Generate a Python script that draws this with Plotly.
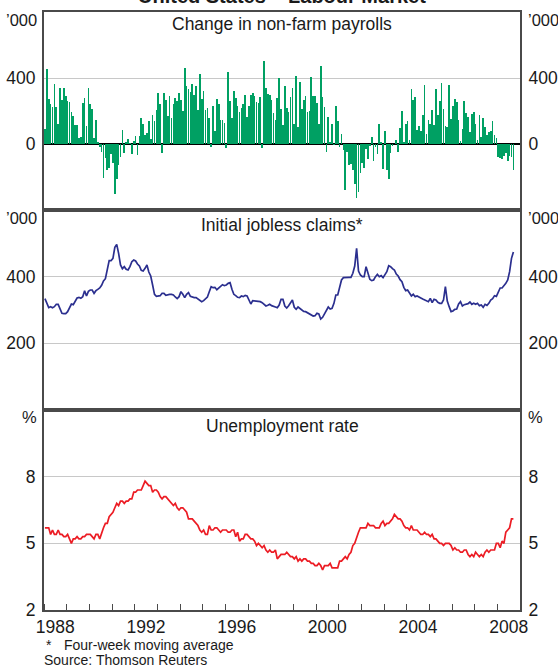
import plotly.graph_objects as go

# ---------------- data (monthly, Jan 1988 - Sep 2008) ----------------
start_year = 1988
x_end = 2009

payrolls = [  # change in non-farm payrolls, '000
    92, 452, 272, 242, 224, 362, 226, 122, 338, 266, 338, 290,      # 1988
    260, 254, 194, 168, 116, 116, 38, 44, 248, 278, 110, 338,       # 1989
    242, 212, 38, 146, 14, -20, -46, -208, -82, -160, -148, -58,    # 1990
    -118, -304, -214, -130, -80, 86, -52, 14, 32, 2, -58, 20,       # 1991
    50, -64, 50, 158, 122, 56, 68, 140, 32, 176, 140, 206,          # 1992
    308, 242, -52, 308, 266, 170, 290, 158, 242, 278, 260, 308,     # 1993
    266, 200, 458, 350, 332, 314, 362, 296, 350, 206, 422, 272,     # 1994
    320, 206, 218, 158, -16, 230, 80, 272, 242, 146, 146, 128,      # 1995
    -22, 434, 260, 158, 320, 278, 230, 194, 218, 242, 296, 164,     # 1996
    230, 296, 308, 290, 254, 248, 284, -22, 506, 338, 302, 296,     # 1997
    266, 188, 146, 278, 398, 212, 116, 350, 218, 194, 284, 338,     # 1998
    122, 410, 104, 374, 212, 266, 290, 194, 200, 404, 290, 290,     # 1999
    248, 122, 470, 284, 224, -46, 164, 10, 122, -6, 230, 140,       # 2000
    -16, 62, -34, -280, -46, -130, -124, -160, -244, -328, -292, -178,  # 2001
    -118, -148, -28, -88, -10, 44, -100, -16, -58, 122, 8, -154,    # 2002
    80, -160, -214, -52, -10, 0, 26, -46, 98, 200, 14, 122,         # 2003
    140, 26, 332, 266, 284, 86, 110, 80, 176, 356, 62, 146,         # 2004
    122, 206, 116, 332, 176, 260, 368, 212, 110, 104, 356, 152,     # 2005
    230, 272, 254, 146, 20, 92, 260, 188, 164, 74, 182, 194,        # 2006
    122, 26, 176, 44, 158, 104, 56, 74, 80, 140, 56, 38,            # 2007
    -76, -82, -88, -70, -52, -100, -70, -76, -160,                  # 2008
]

claims = [  # initial jobless claims, four-week moving average, '000
    334, 319, 307, 310, 307, 310, 317, 317, 300, 290, 289, 289,     # 1988
    295, 307, 318, 316, 325, 336, 338, 335, 340, 358, 342, 356,     # 1989
    360, 360, 350, 358, 362, 366, 374, 387, 394, 420, 448, 448,     # 1990
    455, 488, 497, 470, 435, 424, 430, 422, 420, 430, 445, 450,     # 1991
    447, 438, 432, 419, 417, 425, 435, 414, 402, 375, 347, 341,     # 1992
    343, 343, 350, 350, 344, 346, 347, 347, 345, 339, 334, 340,     # 1993
    355, 347, 337, 347, 352, 341, 338, 337, 337, 332, 330, 325,     # 1994
    328, 334, 339, 355, 370, 367, 368, 361, 366, 370, 376, 373,     # 1995
    375, 380, 382, 362, 347, 343, 338, 337, 342, 340, 344, 342,     # 1996
    330, 318, 328, 327, 327, 327, 325, 322, 316, 312, 314, 317,     # 1997
    313, 310, 309, 307, 315, 332, 332, 312, 306, 313, 320, 330,     # 1998
    308, 302, 309, 304, 301, 296, 295, 292, 289, 287, 282, 283,     # 1999
    290, 288, 273, 278, 288, 297, 309, 303, 305, 320, 345, 345,     # 2000
    370, 390, 397, 398, 398, 398, 398, 410, 432, 485, 417, 405,     # 2001
    400, 400, 430, 410, 392, 388, 390, 400, 407, 400, 403, 397,     # 2002
    405, 415, 433, 430, 424, 420, 408, 402, 391, 385, 368, 358,     # 2003
    360, 350, 342, 347, 340, 342, 338, 336, 333, 330, 327, 325,     # 2004
    335, 322, 332, 330, 323, 320, 320, 330, 370, 327, 310, 295,     # 2005
    297, 302, 303, 318, 325, 312, 316, 317, 319, 324, 317, 320,     # 2006
    317, 320, 313, 315, 308, 317, 314, 320, 330, 334, 343, 341,     # 2007
    352, 366, 366, 372, 380, 390, 415, 455, 474,                    # 2008
]

unemployment = [  # unemployment rate, %
    5.7, 5.7, 5.7, 5.4, 5.6, 5.4, 5.4, 5.6, 5.4, 5.4, 5.3, 5.3,  # 1988
    5.4, 5.2, 5.0, 5.2, 5.2, 5.3, 5.2, 5.2, 5.3, 5.3, 5.4, 5.4,  # 1989
    5.4, 5.3, 5.2, 5.4, 5.4, 5.2, 5.5, 5.7, 5.9, 5.9, 6.2, 6.3,  # 1990
    6.4, 6.6, 6.8, 6.7, 6.9, 6.9, 6.8, 6.9, 6.9, 7.0, 7.0, 7.3,  # 1991
    7.3, 7.4, 7.4, 7.4, 7.6, 7.8, 7.7, 7.6, 7.6, 7.3, 7.4, 7.4,  # 1992
    7.3, 7.1, 7.0, 7.1, 7.1, 7.0, 6.9, 6.8, 6.7, 6.8, 6.6, 6.5,  # 1993
    6.6, 6.6, 6.5, 6.4, 6.1, 6.1, 6.1, 6.0, 5.9, 5.8, 5.6, 5.5,  # 1994
    5.6, 5.4, 5.4, 5.8, 5.6, 5.6, 5.7, 5.7, 5.6, 5.5, 5.6, 5.6,  # 1995
    5.6, 5.5, 5.5, 5.6, 5.6, 5.3, 5.5, 5.1, 5.2, 5.2, 5.4, 5.4,  # 1996
    5.3, 5.2, 5.2, 5.1, 4.9, 5.0, 4.9, 4.8, 4.9, 4.7, 4.6, 4.7,  # 1997
    4.6, 4.6, 4.7, 4.3, 4.4, 4.5, 4.5, 4.5, 4.6, 4.5, 4.4, 4.4,  # 1998
    4.3, 4.4, 4.2, 4.3, 4.2, 4.3, 4.3, 4.2, 4.2, 4.1, 4.1, 4.0,  # 1999
    4.0, 4.1, 4.0, 3.8, 4.0, 4.0, 4.0, 4.1, 3.9, 3.9, 3.9, 3.9,  # 2000
    4.2, 4.2, 4.3, 4.4, 4.3, 4.5, 4.6, 4.9, 5.0, 5.3, 5.5, 5.7,  # 2001
    5.7, 5.7, 5.7, 5.9, 5.8, 5.8, 5.8, 5.7, 5.7, 5.7, 5.9, 6.0,  # 2002
    5.8, 5.9, 5.9, 6.0, 6.1, 6.3, 6.2, 6.1, 6.1, 6.0, 5.8, 5.7,  # 2003
    5.7, 5.6, 5.8, 5.6, 5.6, 5.6, 5.5, 5.4, 5.4, 5.5, 5.4, 5.4,  # 2004
    5.3, 5.4, 5.2, 5.2, 5.1, 5.0, 5.0, 4.9, 5.0, 5.0, 5.0, 4.9,  # 2005
    4.7, 4.8, 4.7, 4.7, 4.6, 4.6, 4.7, 4.7, 4.5, 4.4, 4.5, 4.4,  # 2006
    4.6, 4.5, 4.4, 4.5, 4.4, 4.6, 4.7, 4.6, 4.7, 4.7, 4.7, 5.0,  # 2007
    5.0, 4.8, 5.1, 5.0, 5.5, 5.6, 5.7, 6.1, 6.1,                 # 2008
]

year_labels = ["1988", "1992", "1996", "2000", "2004", "2008"]
label_years = [1988, 1992, 1996, 2000, 2004, 2008]

payroll_ticks = [0, 400]
claims_ticks = [200, 400]
unemp_ticks = [2, 5, 8]

# ---------------- figure ----------------
months = [start_year + (i + 0.5) / 12 for i in range(len(payrolls))]

FONT = "Liberation Sans, Arial, sans-serif"
TXT = "#1a1a1a"
FRAME = "#4a4a4a"
GRID = "#c8c8c8"
GREEN = "#00a063"
NAVY = "#2b2f8f"
RED = "#ec1c24"
TICK_SIZE = 17.5
TITLE_SIZE = 17.5

fig = go.Figure()
fig.add_trace(go.Bar(x=months, y=payrolls, width=0.34 / 12, marker=dict(color=GREEN, line=dict(width=0)),
                     xaxis="x", yaxis="y", showlegend=False))
fig.add_trace(go.Scatter(x=months, y=claims, mode="lines", line=dict(color=NAVY, width=1.7),
                         xaxis="x2", yaxis="y2", showlegend=False))
fig.add_trace(go.Scatter(x=months, y=unemployment, mode="lines", line=dict(color=RED, width=1.7),
                         xaxis="x3", yaxis="y3", showlegend=False))
# helper traces so that right-hand axes are drawn
for xa, ya in (("x", "y4"), ("x2", "y5"), ("x3", "y6")):
    fig.add_trace(go.Scatter(x=[None], y=[None], xaxis=xa, yaxis=ya, showlegend=False, hoverinfo="skip"))

h_plot = 598.0
bottom_dom = [0, 200 / h_plot]
middle_dom = [200 / h_plot, 400 / h_plot]
top_dom = [400 / h_plot, 1]

def xax(anchor, show_labels=False):
    d = dict(range=[start_year, x_end], anchor=anchor, showline=True, mirror=True,
             linecolor=FRAME, linewidth=2, showgrid=False, zeroline=False, ticks="",
             showticklabels=show_labels, automargin=False)
    return d

def yax(domain, rng, ticks, side="left", overlay=None, zeroline=False):
    d = dict(domain=domain, range=rng, tickmode="array", tickvals=ticks,
             showgrid=True, gridcolor=GRID, gridwidth=1.2, ticks="",
             showline=True, mirror=True, linecolor=FRAME, linewidth=2,
             zeroline=zeroline, zerolinecolor="#000000", zerolinewidth=1.5,
             tickfont=dict(size=TICK_SIZE, color=TXT, family=FONT), side=side, ticklabelstandoff=3,
             automargin=False)
    if overlay:
        d.update(overlaying=overlay, showgrid=False, zeroline=False)
    return d

x3 = xax("y3", True)
x3.update(tickmode="array", tickvals=[y + 0.5 for y in label_years], ticktext=year_labels,
          tickfont=dict(size=TICK_SIZE, color=TXT, family=FONT),
          minor=dict(tickmode="linear", tick0=start_year, dtick=1, ticks="inside", ticklen=6,
                     tickcolor=FRAME, tickwidth=1, showgrid=False))

fig.update_layout(
    width=558, height=666,
    margin=dict(l=44, r=38, t=12, b=56),
    paper_bgcolor="white", plot_bgcolor="white",
    font=dict(family=FONT, color=TXT),
    bargap=0,
    xaxis=xax("y"), xaxis2=xax("y2"), xaxis3=x3,
    yaxis=yax(top_dom, [-400, 800], payroll_ticks, zeroline=True),
    yaxis2=yax(middle_dom, [0, 600], claims_ticks),
    yaxis3=yax(bottom_dom, [2, 11], unemp_ticks),
    yaxis4=yax(top_dom, [-400, 800], payroll_ticks, side="right", overlay="y"),
    yaxis5=yax(middle_dom, [0, 600], claims_ticks, side="right", overlay="y2"),
    yaxis6=yax(bottom_dom, [2, 11], unemp_ticks, side="right", overlay="y3"),
)
fig.update_layout(yaxis4=dict(anchor="x"), yaxis5=dict(anchor="x2"), yaxis6=dict(anchor="x3"))

def py(px):
    return (610 - px) / h_plot

def px_x(px):
    return (px - 44) / 476.0

ann = []
ann.append(dict(text="<b>United States – Labour Market</b>", x=0.5, y=py(9), xref="paper", yref="paper",
                xanchor="center", yanchor="bottom", showarrow=False, font=dict(size=20, color=TXT)))
for text, ypx in (("Change in non-farm payrolls", 23.5), ("Initial jobless claims*", 224.5),
                  ("Unemployment rate", 426)):
    ann.append(dict(text=text, x=0.5, y=py(ypx), xref="paper", yref="paper", xanchor="center",
                    yanchor="middle", showarrow=False, font=dict(size=TITLE_SIZE, color=TXT)))
for text, ypx in (("’000", 20), ("’000", 217.5), ("%", 417)):
    ann.append(dict(text=text, x=px_x(39), y=py(ypx), xref="paper", yref="paper", xanchor="right",
                    yanchor="middle", showarrow=False, font=dict(size=16.5, color=TXT)))
    ann.append(dict(text=text, x=px_x(526), y=py(ypx), xref="paper", yref="paper", xanchor="left",
                    yanchor="middle", showarrow=False, font=dict(size=16.5, color=TXT)))
ann.append(dict(text="*", x=px_x(44), y=py(645), xref="paper", yref="paper", xanchor="left",
                yanchor="middle", showarrow=False, font=dict(size=14, color=TXT)))
ann.append(dict(text="Four-week moving average", x=px_x(62), y=py(645), xref="paper", yref="paper",
                xanchor="left", yanchor="middle", showarrow=False, font=dict(size=14, color=TXT)))
ann.append(dict(text="Source: Thomson Reuters", x=px_x(42), y=py(659.5), xref="paper", yref="paper",
                xanchor="left", yanchor="middle", showarrow=False, font=dict(size=14, color=TXT)))
fig.update_layout(annotations=ann)

fig.write_html("out.html", config={"displayModeBar": False},
               post_script="document.body.style.margin='0';document.body.style.overflow='hidden';")
